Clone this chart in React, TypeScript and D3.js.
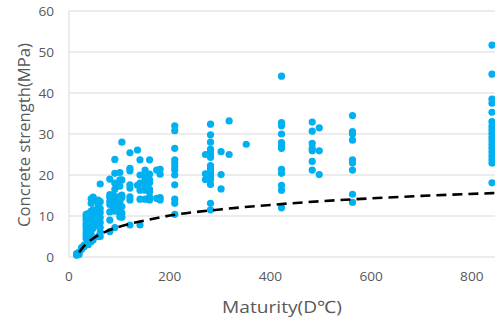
import {useEffect, useRef} from "react";
import * as d3 from "d3";

// maturity (D°C) of each test column, and the strengths measured there (MPa)
const maturity = [15, 20, 25, 30, 34, 38, 44, 48, 58, 62, 81, 88, 91, 101, 105, 121, 136, 141, 151, 160, 174, 181, 210, 271, 281, 302, 318, 352, 422, 483, 497, 563, 840];
const strength = [
    [0.4, 0.8],
    [0.6, 1.2],
    [1.9, 2.3],
    [2.5, 2.9],
    [4.5, 5.2, 6.0, 6.8, 7.5, 8.2, 9.0, 9.7, 10.4],
    [3.0, 3.4, 5.0, 5.8, 6.6, 7.4, 8.2, 9.0, 9.8, 10.6],
    [3.8, 4.5, 5.5, 6.5, 7.5, 8.5, 9.5, 10.5, 11.2, 13.1, 14.2],
    [4.2, 7.0, 8.0, 9.2, 10.3, 11.5, 13.8, 14.6],
    [5.0, 7.8, 9.0, 10.2, 11.4, 12.6, 13.9],
    [5.0, 6.0, 7.2, 8.4, 9.6, 10.8, 11.8, 13.5, 17.8],
    [6.2, 9.0, 11.0, 12.8, 13.5, 14.5, 15.2, 19.0],
    [11.5, 13.9, 15.1],
    [7.2, 11.2, 12.4, 13.5, 14.7, 16.5, 18.0, 20.4, 23.8],
    [9.8, 10.7, 12.0, 13.5, 14.8, 17.3, 18.8, 20.6],
    [9.7, 10.7, 12.3, 14.5, 15.1, 18.8, 28.0],
    [7.8, 13.9, 14.7, 16.8, 17.6, 21.0, 21.6, 25.4],
    [17.5, 26.1],
    [7.8, 14.1, 16.3, 18.0, 20.0, 23.7],
    [14.1, 16.3, 17.6, 18.9, 20.0, 21.2],
    [13.9, 14.7, 15.9, 16.5, 18.1, 18.8, 20.2, 23.7],
    [14.3, 21.2],
    [13.9, 14.5, 20.2, 21.4],
    [10.4, 13.1, 14.1, 17.6, 20.0, 21.2, 22.0, 22.9, 23.7, 26.5, 30.8, 32.0],
    [18.9, 20.3, 25.0],
    [11.5, 13.1, 17.7, 18.9, 19.6, 20.3, 21.0, 21.6, 22.3, 24.3, 25.0, 25.7, 26.3, 28.0, 29.8, 32.4],
    [16.6, 20.1, 25.7],
    [25.0, 33.2],
    [27.5],
    [12.0, 16.3, 17.5, 20.4, 21.4, 26.5, 27.1, 27.9, 30.0, 32.0, 32.8, 44.1],
    [21.2, 23.3, 25.9, 26.5, 27.7, 30.7, 32.9],
    [20.1, 25.9, 31.5],
    [13.3, 15.3, 21.2, 22.9, 23.7, 28.5, 30.0, 30.6, 34.5],
    [18.1, 22.9, 23.8, 24.7, 25.6, 26.5, 27.4, 28.3, 29.2, 30.1, 31.0, 31.9, 33.0, 35.3, 37.5, 38.5, 44.6, 51.7],
];

// dashed trend line
const trendMaturity = [20, 30, 50, 75, 100, 150, 200, 300, 400, 500, 600, 700, 846];
const trendStrength = [1.1, 2.7, 4.7, 6.3, 7.4, 8.9, 10.1, 11.6, 12.7, 13.6, 14.3, 14.9, 15.6];

const xTicks = [0, 200, 400, 600, 800];
const yTicks = [0, 10, 20, 30, 40, 50, 60];

const W = 495;
const H = 321;
const font = "'Open Sans', 'Liberation Sans', sans-serif";

const App = () => {
    const ref = useRef(null);

    useEffect(() => {
        const svg = d3.select(ref.current);
        svg.selectAll("*").remove();

        const x = d3.scaleLinear().domain([0, 846]).range([69, 495]);
        const y = d3.scaleLinear().domain([0, 60]).range([257, 11]);

        // gridlines
        svg.append("g")
            .selectAll("line")
            .data(yTicks)
            .enter()
            .append("line")
            .attr("x1", x(0))
            .attr("x2", W)
            .attr("y1", (d) => y(d))
            .attr("y2", (d) => y(d))
            .attr("stroke", "#d9d9d9")
            .attr("stroke-width", 1);

        svg.append("line")
            .attr("x1", x(0))
            .attr("x2", x(0))
            .attr("y1", y(60))
            .attr("y2", y(0))
            .attr("stroke", "#d9d9d9");

        // tick labels
        svg.append("g")
            .selectAll("text")
            .data(yTicks)
            .enter()
            .append("text")
            .attr("x", 54)
            .attr("y", (d) => y(d) + 4.5)
            .attr("text-anchor", "end")
            .attr("font-family", font)
            .attr("font-size", 12.5)
            .attr("fill", "#595959")
            .attr("textLength", (d) => String(d).length * 7.8)
            .attr("lengthAdjust", "spacingAndGlyphs")
            .text((d) => d);

        svg.append("g")
            .selectAll("text")
            .data(xTicks)
            .enter()
            .append("text")
            .attr("x", (d) => x(d))
            .attr("y", 281)
            .attr("text-anchor", "middle")
            .attr("font-family", font)
            .attr("font-size", 12.5)
            .attr("fill", "#595959")
            .attr("textLength", (d) => String(d).length * 7.8)
            .attr("lengthAdjust", "spacingAndGlyphs")
            .text((d) => d);

        // axis titles
        svg.append("text")
            .attr("x", 282)
            .attr("y", 313)
            .attr("text-anchor", "middle")
            .attr("font-family", font)
            .attr("font-size", 17)
            .attr("fill", "#595959")
            .attr("textLength", 120)
            .attr("lengthAdjust", "spacingAndGlyphs")
            .text("Maturity(D℃)");

        svg.append("text")
            .attr("transform", "translate(30,135) rotate(-90)")
            .attr("text-anchor", "middle")
            .attr("font-family", font)
            .attr("font-size", 17)
            .attr("fill", "#595959")
            .attr("textLength", 184)
            .attr("lengthAdjust", "spacingAndGlyphs")
            .text("Concrete strength(MPa)");

        // points
        const points = maturity.flatMap((m, i) => strength[i].map((s) => [m, s]));
        svg.append("g")
            .selectAll("circle")
            .data(points)
            .enter()
            .append("circle")
            .attr("cx", (d) => x(d[0]))
            .attr("cy", (d) => y(d[1]))
            .attr("r", 3.6)
            .attr("fill", "#00b0f0");

        // trend line
        const line = d3.line<number>()
            .x((d, i) => x(trendMaturity[i]))
            .y((d) => y(d))
            .curve(d3.curveMonotoneX);

        svg.append("path")
            .attr("d", line(trendStrength))
            .attr("fill", "none")
            .attr("stroke", "#000")
            .attr("stroke-width", 2.6)
            .attr("stroke-dasharray", "10,6");
    }, []);

    return (
        <div style={{position: "absolute", left: 0, top: 0}}>
            <svg ref={ref} width={W} height={H} style={{display: "block", background: "#fff"}}></svg>
        </div>
    );
};

export default App;
